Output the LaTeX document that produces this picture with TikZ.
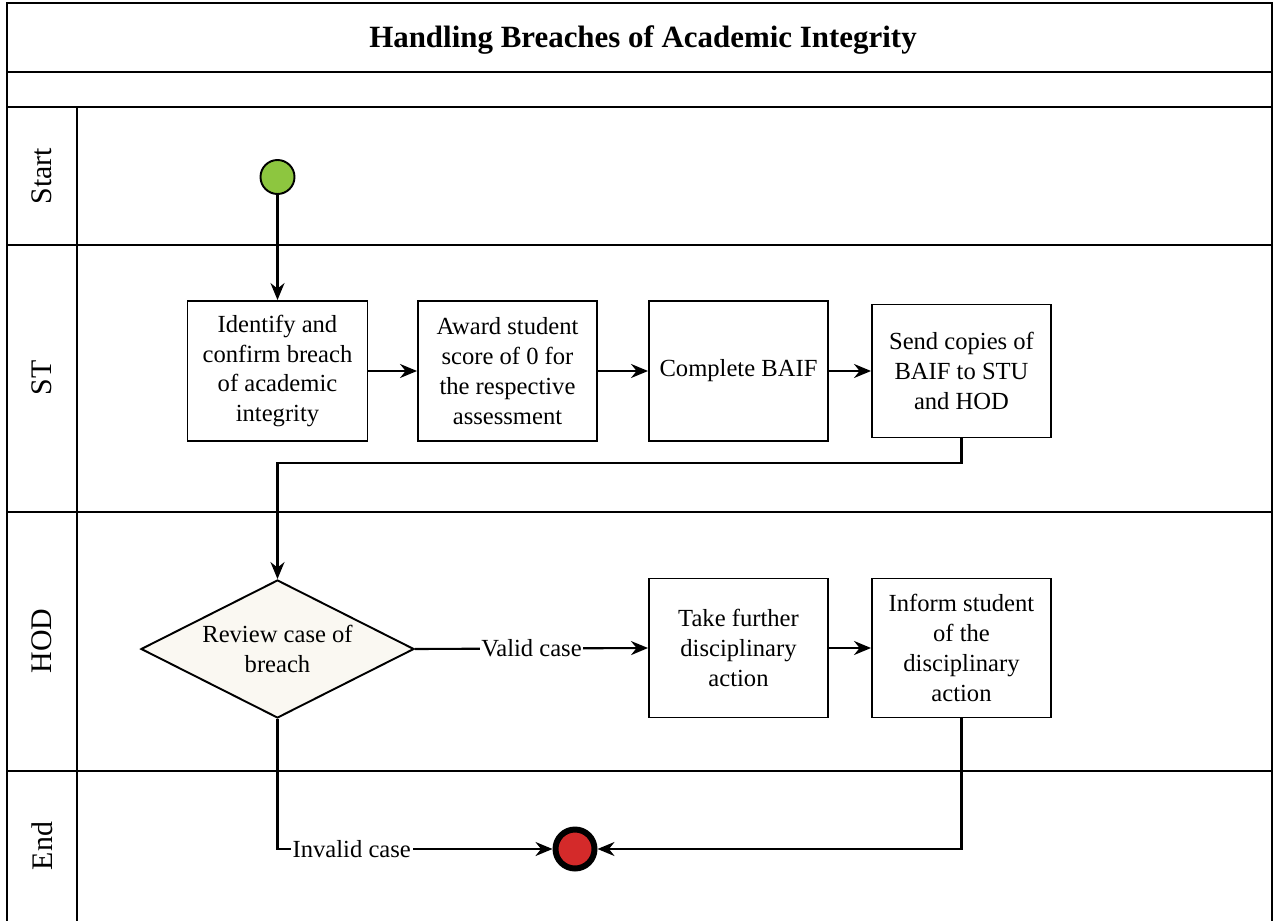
\documentclass[tikz,border=0pt]{standalone}
\usepackage{fontspec}
\setmainfont{Liberation Serif}
\usetikzlibrary{arrows.meta,shapes.geometric}
\definecolor{startgreen}{HTML}{8DC63F}
\definecolor{endred}{HTML}{D42A2A}
\definecolor{diamondfill}{HTML}{FAF8F2}
\tikzset{
  lane/.style={line width=1.1pt},
  lanelabel/.style={rotate=90,font=\fontsize{17}{20}\selectfont},
  stepbox/.style={draw,line width=1.1pt,align=center,minimum width=3.58cm,minimum height=2.8cm,
    inner sep=2pt,font=\fontsize{14}{17}\selectfont},
  decision/.style={draw,diamond,line width=1.1pt,fill=diamondfill,aspect=1.98,
    minimum width=5.46cm,minimum height=2.76cm,inner sep=0pt,align=center,font=\fontsize{14}{17}\selectfont},
  flow/.style={line width=1.2pt,-{Stealth[length=3.4mm,width=2.8mm]}},
  caselabel/.style={fill=white,inner sep=1pt,font=\fontsize{14}{17}\selectfont}
}
\begin{document}
\begin{tikzpicture}
	\useasboundingbox (0,0) rectangle (25.48,-18.42);
	% pool and lanes
	\draw [lane] (0.14,-18.42) -- (0.14,-0.06) -- (25.44,-0.06) -- (25.44,-18.42);
	\foreach \y in {-1.44,-2.14,-4.90,-10.24,-15.42}
		\draw [lane] (0.14,\y) -- (25.44,\y);
	\draw [lane] (1.54,-2.14) -- (1.54,-18.42);
	\node (title) at (12.86,-0.8) {\fontsize{17.6}{20}\selectfont\bfseries Handling Breaches of Academic Integrity};
	\node [lanelabel] (lstart) at (0.84,-3.52) {Start};
	\node [lanelabel] (lst) at (0.84,-7.56) {ST};
	\node [lanelabel] (lhod) at (0.84,-12.82) {HOD};
	\node [lanelabel] (lend) at (0.84,-16.92) {End};
	% events and steps
	\node [draw,circle,line width=1.1pt,fill=startgreen,minimum size=0.68cm] (start) at (5.55,-3.54) {};
	\node [stepbox,minimum width=3.6cm] (identify) at (5.55,-7.42) {Identify and\\confirm breach\\of academic\\integrity};
	\node [stepbox] (award) at (10.15,-7.42) {Award student\\score of 0 for\\the respective\\assessment};
	\node [stepbox] (baif) at (14.77,-7.42) {Complete BAIF};
	\node [stepbox,minimum height=2.66cm] (send) at (19.23,-7.42) {Send copies of\\BAIF to STU\\and HOD};
	\node [decision] (review) at (5.55,-12.98) {Review case of\\breach};
	\node [stepbox,minimum height=2.78cm] (further) at (14.77,-12.96) {Take further\\disciplinary\\action};
	\node [stepbox,minimum height=2.78cm] (inform) at (19.23,-12.96) {Inform student\\of the\\disciplinary\\action};
	\node [draw,circle,line width=3.4pt,fill=endred,minimum size=0.78cm] (end) at (11.5,-16.98) {};
	\coordinate (elbow) at (5.55,-9.26);
	% connectors
	\draw [flow] (start) -- (identify);
	\draw [flow] (identify) -- (award);
	\draw [flow] (award) -- (baif);
	\draw [flow] (baif) -- (send);
	\draw [flow] (send.south) |- (elbow) -- (review.north);
	\draw [flow] (review.east) -- node[caselabel,pos=0.5]{Valid case} (further.west);
	\draw [flow] (further) -- (inform);
	\draw [flow] (review.south) |- node[caselabel,pos=0.635]{Invalid case} (end.west);
	\draw [flow] (inform.south) |- (end.east);
\end{tikzpicture}
\end{document}
